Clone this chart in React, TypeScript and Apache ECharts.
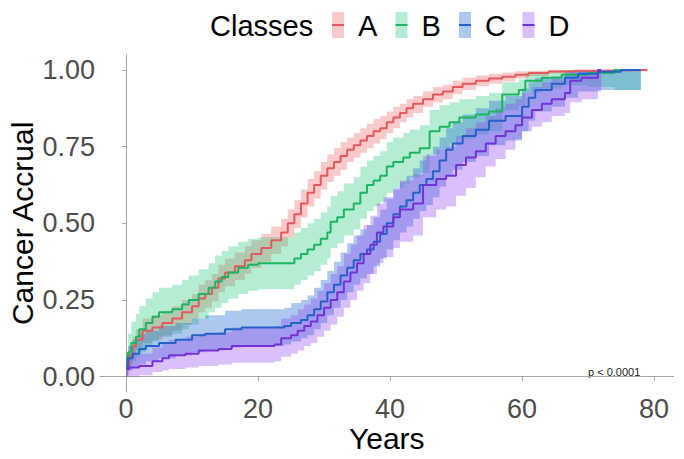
import React, { useEffect, useRef } from "react";
import * as echarts from "echarts";

// ---- data: cumulative accrual step estimates with confidence limits ----
const classNames = ["A", "B", "C", "D"];

const timesA = [0, 0.5, 1, 1.5, 2.5, 4, 5.5, 7, 8.5, 10, 11, 12, 13, 14, 15, 16.5, 18, 19, 20.5, 22, 23.5, 24.5, 25.5, 26.5, 27.5, 28.5, 29.5, 30.5, 31.5, 32.5, 33.5, 34.5, 35.5, 36.5, 37.5, 38.5, 39.5, 40.5, 41.5, 42.5, 43.5, 45, 46.5, 48, 49.5, 51, 53, 55, 57, 59, 61, 64, 68, 72];
const estA = [0.03, 0.07, 0.1, 0.12, 0.15, 0.16, 0.175, 0.19, 0.21, 0.23, 0.255, 0.27, 0.29, 0.32, 0.34, 0.36, 0.38, 0.4, 0.42, 0.445, 0.47, 0.5, 0.53, 0.565, 0.6, 0.625, 0.655, 0.68, 0.7, 0.72, 0.74, 0.755, 0.77, 0.785, 0.8, 0.81, 0.83, 0.845, 0.86, 0.875, 0.89, 0.905, 0.92, 0.93, 0.945, 0.955, 0.965, 0.972, 0.978, 0.985, 0.99, 0.995, 0.998, 1.0];
const lowA = [0.005, 0.04, 0.07, 0.085, 0.11, 0.12, 0.135, 0.15, 0.17, 0.19, 0.21, 0.225, 0.245, 0.275, 0.295, 0.315, 0.335, 0.355, 0.375, 0.4, 0.425, 0.455, 0.485, 0.52, 0.555, 0.58, 0.61, 0.635, 0.655, 0.675, 0.7, 0.715, 0.73, 0.745, 0.76, 0.775, 0.795, 0.81, 0.83, 0.845, 0.86, 0.88, 0.895, 0.905, 0.922, 0.935, 0.947, 0.955, 0.963, 0.972, 0.98, 0.988, 0.993, 0.997];
const highA = [0.05, 0.1, 0.13, 0.155, 0.19, 0.2, 0.215, 0.23, 0.25, 0.27, 0.3, 0.315, 0.335, 0.365, 0.385, 0.405, 0.425, 0.445, 0.465, 0.49, 0.515, 0.545, 0.575, 0.61, 0.645, 0.67, 0.7, 0.725, 0.745, 0.765, 0.78, 0.795, 0.81, 0.825, 0.84, 0.85, 0.865, 0.88, 0.89, 0.905, 0.915, 0.93, 0.945, 0.952, 0.965, 0.975, 0.982, 0.988, 0.992, 0.996, 0.998, 1.0, 1.0, 1.0];
const endA = 79;

const timesB = [0, 0.3, 0.8, 1.5, 2, 3, 4, 5, 7, 8.5, 9.5, 11, 12.5, 13.5, 14.5, 15.5, 17, 18.5, 20, 25.5, 26.5, 27.5, 28.5, 29.5, 30.5, 31, 32, 33, 34.5, 35.5, 36.5, 37.5, 38.5, 39.5, 40.5, 42, 43, 44.5, 46, 47.5, 49, 50.5, 53, 55, 57, 59.5, 60.5, 63, 66, 70, 74];
const estB = [0.03, 0.08, 0.11, 0.13, 0.155, 0.175, 0.195, 0.21, 0.22, 0.235, 0.25, 0.27, 0.29, 0.31, 0.325, 0.34, 0.355, 0.365, 0.37, 0.385, 0.4, 0.415, 0.43, 0.45, 0.47, 0.505, 0.52, 0.545, 0.565, 0.6, 0.625, 0.64, 0.655, 0.685, 0.7, 0.715, 0.73, 0.745, 0.8, 0.815, 0.83, 0.845, 0.855, 0.865, 0.92, 0.935, 0.965, 0.975, 0.985, 0.99, 1.0];
const lowB = [0.0, 0.03, 0.05, 0.065, 0.08, 0.1, 0.115, 0.13, 0.14, 0.155, 0.17, 0.19, 0.21, 0.225, 0.24, 0.255, 0.27, 0.28, 0.285, 0.3, 0.315, 0.33, 0.345, 0.365, 0.385, 0.42, 0.435, 0.46, 0.48, 0.515, 0.54, 0.555, 0.57, 0.6, 0.615, 0.63, 0.65, 0.665, 0.725, 0.74, 0.76, 0.775, 0.79, 0.8, 0.87, 0.885, 0.925, 0.94, 0.95, 0.945, 0.935];
const highB = [0.07, 0.14, 0.18, 0.205, 0.23, 0.255, 0.275, 0.29, 0.3, 0.315, 0.33, 0.35, 0.37, 0.395, 0.41, 0.425, 0.44, 0.45, 0.455, 0.47, 0.485, 0.5, 0.515, 0.535, 0.555, 0.59, 0.605, 0.63, 0.65, 0.685, 0.705, 0.72, 0.735, 0.765, 0.78, 0.795, 0.805, 0.82, 0.87, 0.885, 0.895, 0.905, 0.915, 0.925, 0.96, 0.97, 0.99, 0.995, 1.0, 1.0, 1.0];
const endB = 78;

const timesC = [0, 0.3, 1, 2, 3, 5, 7.5, 10, 12, 15, 17.5, 24, 25, 26.5, 27.5, 28.5, 29.5, 30.5, 31.5, 32.5, 33.5, 34.5, 35.5, 36.5, 37.5, 38.5, 39.5, 40.5, 41.5, 42.5, 43.5, 44.5, 45.5, 46.5, 47.5, 48.5, 49.5, 51, 53, 55, 57.5, 60, 61, 62, 64.5, 66.5, 68.5, 71.5, 75];
const estC = [0.03, 0.06, 0.075, 0.09, 0.1, 0.11, 0.12, 0.135, 0.14, 0.155, 0.16, 0.165, 0.175, 0.185, 0.2, 0.22, 0.245, 0.275, 0.3, 0.33, 0.355, 0.38, 0.4, 0.415, 0.44, 0.465, 0.5, 0.53, 0.555, 0.575, 0.6, 0.625, 0.645, 0.67, 0.705, 0.74, 0.76, 0.785, 0.805, 0.835, 0.85, 0.88, 0.91, 0.935, 0.955, 0.975, 0.988, 0.994, 1.0];
const lowC = [0.0, 0.02, 0.03, 0.04, 0.05, 0.06, 0.07, 0.08, 0.085, 0.095, 0.1, 0.105, 0.115, 0.125, 0.135, 0.155, 0.175, 0.2, 0.225, 0.25, 0.275, 0.3, 0.32, 0.335, 0.36, 0.385, 0.415, 0.445, 0.47, 0.49, 0.515, 0.54, 0.56, 0.585, 0.62, 0.655, 0.675, 0.7, 0.72, 0.755, 0.77, 0.8, 0.835, 0.865, 0.88, 0.91, 0.93, 0.935, 0.935];
const highC = [0.07, 0.1, 0.12, 0.14, 0.15, 0.165, 0.175, 0.19, 0.2, 0.215, 0.22, 0.225, 0.24, 0.25, 0.265, 0.29, 0.315, 0.345, 0.375, 0.405, 0.435, 0.46, 0.48, 0.495, 0.52, 0.545, 0.58, 0.61, 0.635, 0.655, 0.68, 0.705, 0.725, 0.75, 0.78, 0.81, 0.83, 0.855, 0.875, 0.9, 0.915, 0.94, 0.96, 0.975, 0.98, 0.995, 1.0, 1.0, 1.0];
const endC = 78;

const timesD = [0, 0.5, 2, 4, 5.5, 6.5, 9, 11, 14, 16, 22.5, 23.5, 25, 26, 27, 28, 29, 30, 31, 32, 33, 34, 35, 36, 37, 38, 39, 40.5, 41.5, 43.5, 45, 47, 48.5, 50, 51.5, 53, 54.5, 56, 57.5, 59, 60, 61.5, 63, 64.5, 66.5, 67.3, 69, 71.5];
const estD = [0.025, 0.03, 0.035, 0.05, 0.06, 0.07, 0.075, 0.085, 0.09, 0.1, 0.105, 0.125, 0.135, 0.15, 0.165, 0.18, 0.2, 0.225, 0.25, 0.275, 0.31, 0.34, 0.37, 0.4, 0.43, 0.47, 0.49, 0.52, 0.545, 0.565, 0.625, 0.645, 0.655, 0.69, 0.715, 0.735, 0.76, 0.785, 0.8, 0.82, 0.845, 0.87, 0.89, 0.905, 0.925, 0.965, 0.975, 1.0];
const lowD = [0.0, 0.0, 0.005, 0.015, 0.02, 0.025, 0.03, 0.035, 0.04, 0.045, 0.05, 0.065, 0.075, 0.085, 0.1, 0.11, 0.13, 0.15, 0.17, 0.195, 0.225, 0.25, 0.28, 0.305, 0.335, 0.37, 0.39, 0.42, 0.44, 0.46, 0.52, 0.545, 0.555, 0.59, 0.615, 0.65, 0.685, 0.71, 0.74, 0.775, 0.8, 0.815, 0.83, 0.85, 0.86, 0.895, 0.905, 0.93];
const highD = [0.06, 0.07, 0.075, 0.095, 0.11, 0.12, 0.13, 0.14, 0.145, 0.16, 0.165, 0.19, 0.2, 0.22, 0.235, 0.255, 0.28, 0.305, 0.335, 0.36, 0.4, 0.43, 0.46, 0.495, 0.525, 0.565, 0.585, 0.615, 0.64, 0.66, 0.72, 0.74, 0.75, 0.785, 0.81, 0.83, 0.85, 0.875, 0.89, 0.905, 0.925, 0.945, 0.96, 0.97, 0.98, 1.0, 1.0, 1.0];
const endD = 72;

const xTicks = [0, 20, 40, 60, 80];
const yTicks = [0, 0.25, 0.5, 0.75, 1.0];
const pValueText = "p < 0.0001";

// ---- styling ----
const FONT = "'Liberation Sans', Arial, Helvetica, sans-serif";
const lineColors = ["#E5585E", "#1DB462", "#2461C8", "#7432D6"];
const bandColors = [
  "rgba(240,100,100,0.35)",
  "rgba(30,200,120,0.33)",
  "rgba(40,110,210,0.38)",
  "rgba(140,60,240,0.32)",
];

const groups = [
  { times: timesA, est: estA, low: lowA, high: highA, end: endA },
  { times: timesB, est: estB, low: lowB, high: highB, end: endB },
  { times: timesC, est: estC, low: lowC, high: highC, end: endC },
  { times: timesD, est: estD, low: lowD, high: highD, end: endD },
];

// confidence ribbon drawn as one stepped polygon through the axis scales
function bandSeries(idx: number) {
  const g = groups[idx];
  return {
    type: "custom",
    name: classNames[idx] + " band",
    silent: true,
    z: 1,
    clip: true,
    data: [[g.times[0], g.est[0]]],
    renderItem: (_params: any, api: any) => {
      const n = g.times.length;
      const pts: number[][] = [];
      for (let i = 0; i < n; i++) {
        const t1 = i < n - 1 ? g.times[i + 1] : g.end;
        pts.push(api.coord([g.times[i], g.high[i]]));
        pts.push(api.coord([t1, g.high[i]]));
      }
      for (let i = n - 1; i >= 0; i--) {
        const t1 = i < n - 1 ? g.times[i + 1] : g.end;
        pts.push(api.coord([t1, g.low[i]]));
        pts.push(api.coord([g.times[i], g.low[i]]));
      }
      return {
        type: "polygon",
        shape: { points: pts },
        style: { fill: bandColors[idx], stroke: null },
      };
    },
  };
}

function lineSeries(idx: number) {
  const g = groups[idx];
  const data = g.times.map((t, i) => [t, g.est[i]]);
  data.push([g.end, g.est[g.est.length - 1]]);
  return {
    type: "line",
    name: classNames[idx],
    step: "end",
    data,
    showSymbol: false,
    symbol: "none",
    silent: true,
    z: 3,
    lineStyle: { color: lineColors[idx], width: 2 },
  };
}

function legendGraphics() {
  const items: any[] = [
    {
      type: "text",
      left: 210,
      top: 11,
      style: { text: "Classes", font: `29px ${FONT}`, fill: "#000" },
    },
  ];
  const keyX0 = 332;
  const step = 63.5;
  classNames.forEach((c, i) => {
    const kx = keyX0 + i * step;
    items.push({
      type: "rect",
      shape: { x: kx, y: 12, width: 12, height: 26 },
      style: { fill: bandColors[i] },
    });
    items.push({
      type: "line",
      shape: { x1: kx, y1: 25, x2: kx + 12, y2: 25 },
      style: { stroke: lineColors[i], lineWidth: 2 },
    });
    items.push({
      type: "text",
      left: kx + 26,
      top: 11,
      style: { text: c, font: `29px ${FONT}`, fill: "#000" },
    });
  });
  items.push({
    type: "text",
    left: 588,
    top: 366,
    style: { text: pValueText, font: `11px ${FONT}`, fill: "#222" },
  });
  return items;
}

export default function App() {
  const ref = useRef<HTMLDivElement>(null);

  useEffect(() => {
    document.body.style.margin = "0";
    if (!ref.current) return;
    const chart = echarts.init(ref.current, null, { renderer: "svg" });
    const axisLineStyle = { color: "#A6A6A6", width: 1 };
    chart.setOption({
      animation: false,
      backgroundColor: "#ffffff",
      textStyle: { fontFamily: FONT },
      grid: {
        left: 100,
        top: 54.7,
        right: 10.5,
        bottom: 67,
        containLabel: false,
        outerBoundsMode: "none",
      },
      xAxis: {
        type: "value",
        min: -3.95,
        max: 82.95,
        name: "Years",
        nameLocation: "middle",
        nameGap: 31,
        nameMoveOverlap: false,
        nameTextStyle: { fontSize: 30, color: "#000", fontFamily: FONT },
        axisLine: { show: true, lineStyle: axisLineStyle },
        axisTick: { show: true, length: 4, lineStyle: axisLineStyle, customValues: xTicks },
        axisLabel: {
          customValues: xTicks,
          fontSize: 27,
          color: "#4D4D4D",
          margin: 3,
          fontFamily: FONT,
        },
        splitLine: { show: false },
      },
      yAxis: {
        type: "value",
        min: -0.05,
        max: 1.05,
        name: "Cancer Accrual",
        nameLocation: "middle",
        nameRotate: 90,
        nameGap: 63,
        nameMoveOverlap: false,
        nameTextStyle: { fontSize: 30, color: "#000", fontFamily: FONT },
        axisLine: { show: true, lineStyle: axisLineStyle },
        axisTick: { show: true, length: 4, lineStyle: axisLineStyle, customValues: yTicks },
        axisLabel: {
          customValues: yTicks,
          fontSize: 27,
          color: "#4D4D4D",
          margin: 5,
          fontFamily: FONT,
          formatter: (v: number) => v.toFixed(2),
        },
        splitLine: { show: false },
      },
      series: [
        bandSeries(0),
        bandSeries(1),
        bandSeries(2),
        bandSeries(3),
        lineSeries(0),
        lineSeries(1),
        lineSeries(2),
        lineSeries(3),
      ],
      graphic: legendGraphics(),
    });
    return () => chart.dispose();
  }, []);

  return <div ref={ref} style={{ width: 684, height: 459 }} />;
}
